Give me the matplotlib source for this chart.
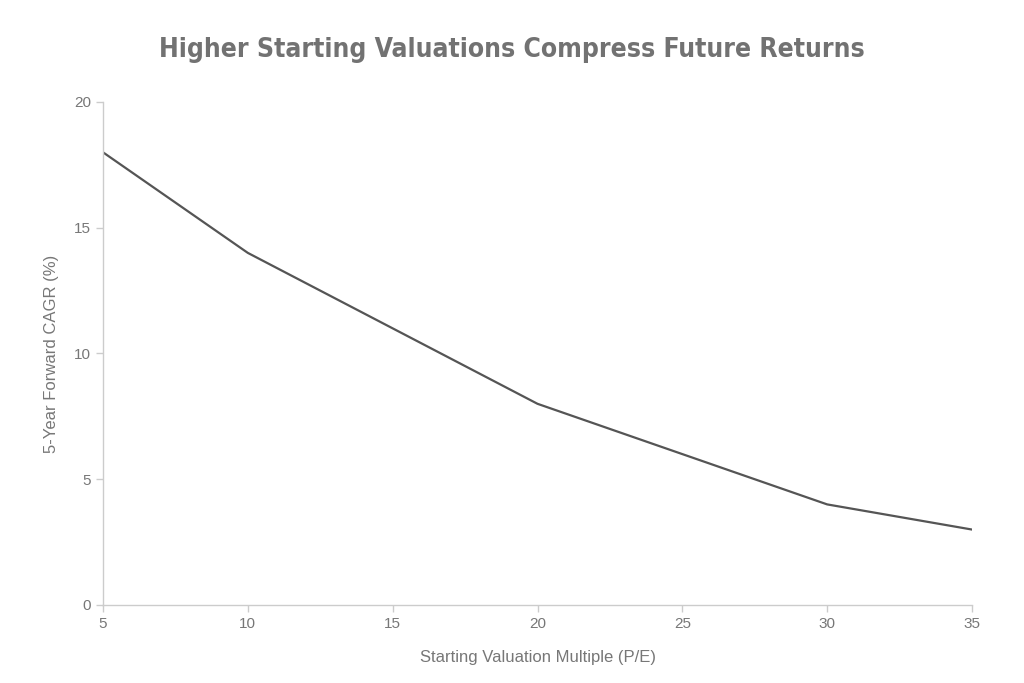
import matplotlib
matplotlib.use("Agg")
import matplotlib.pyplot as plt

pe_multiple = [5, 10, 15, 20, 25, 30, 35]
forward_cagr = [18, 14, 11, 8, 6, 4, 3]
x_ticks = [5, 10, 15, 20, 25, 30, 35]
y_ticks = [0, 5, 10, 15, 20]

fig = plt.figure(figsize=(10.24, 6.83), dpi=100)
ax = fig.add_axes([103/1024, 1 - 605/683, (972-103)/1024, (605-102)/683])

ax.plot(pe_multiple, forward_cagr, color="#555555", linewidth=1.6, solid_joinstyle="round")

ax.set_xlim(5, 35)
ax.set_ylim(0, 20)
ax.set_xticks(x_ticks)
ax.set_yticks(y_ticks)

for s in ["top", "right"]:
    ax.spines[s].set_visible(False)
for s in ["left", "bottom"]:
    ax.spines[s].set_color("#cccccc")
    ax.spines[s].set_linewidth(1.0)

ax.tick_params(colors="#cccccc", labelcolor="#777777", length=5, width=1, labelsize=11)
for lab in ax.get_xticklabels() + ax.get_yticklabels():
    lab.set_family("Liberation Sans")

ax.set_xlabel("Starting Valuation Multiple (P/E)", color="#777777", fontsize=12,
              family="Liberation Sans", labelpad=14)
ax.set_ylabel("5-Year Forward CAGR (%)", color="#777777", fontsize=12,
              family="Liberation Sans", labelpad=11)

fig.text(512/1024, 1 - 50/683, "Higher Starting Valuations Compress Future Returns",
         ha="center", va="center", fontsize=19, fontweight="bold", color="#727272",
         family="DejaVu Sans", fontstretch="condensed")

fig.savefig("out.png", dpi=100)
